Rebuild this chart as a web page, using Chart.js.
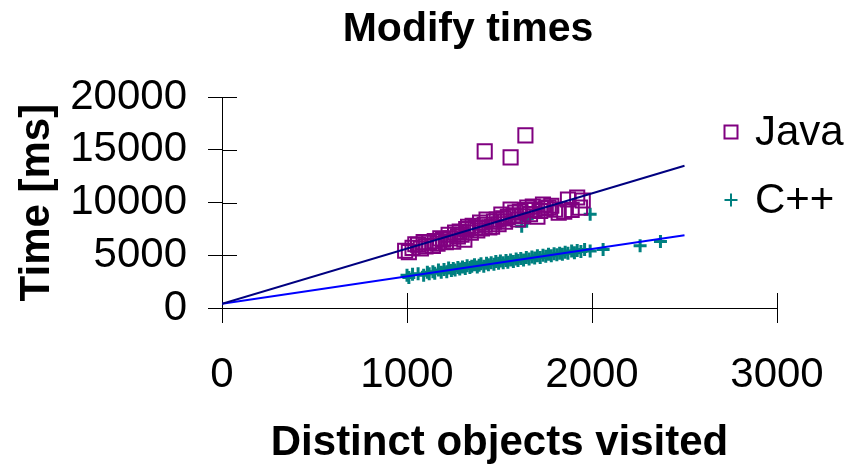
<!DOCTYPE html>
<html>
<head>
<meta charset="utf-8">
<script src="https://cdn.jsdelivr.net/npm/chart.js@4/dist/chart.umd.min.js"></script>
<style>
  body { margin: 0; background: #fff; }
  #wrap { width: 861px; height: 471px; }
</style>
</head>
<body>
<div id="wrap"><canvas id="grafico"></canvas></div>
<script>
// valores
const javaX = [990, 1010, 1030, 1045, 1060, 1075, 1090, 1100, 1120, 1140, 1150, 1165, 1180, 1195, 1210, 1225, 1235, 1250, 1260, 1275, 1285, 1295, 1310, 1320, 1330, 1345, 1355, 1370, 1380, 1395, 1405, 1420, 1430, 1445, 1460, 1470, 1485, 1495, 1510, 1520, 1530, 1545, 1560, 1575, 1585, 1600, 1610, 1625, 1640, 1650, 1665, 1680, 1690, 1705, 1720, 1735, 1750, 1765, 1780, 1800, 1820, 1850, 1870, 1890, 1920, 1935, 1950, 1420, 1560, 1640];
const javaY = [5430, 5300, 5710, 6050, 6000, 5650, 6250, 5850, 6190, 5900, 6350, 6100, 6600, 6480, 6250, 6950, 6600, 6290, 7150, 6800, 7240, 6950, 6480, 7500, 7710, 7150, 7800, 7620, 7350, 8100, 7550, 7900, 8380, 7650, 7710, 8200, 8380, 7950, 8860, 8500, 8190, 8650, 9330, 8800, 9050, 8400, 9140, 8700, 9300, 9520, 8900, 9620, 9350, 8670, 9200, 9810, 9450, 9520, 9700, 9330, 9050, 9140, 10290, 9300, 10480, 9520, 10200, 14860, 14290, 16380];

const cppX = [1000, 1010, 1030, 1060, 1090, 1110, 1120, 1140, 1150, 1170, 1185, 1200, 1215, 1225, 1240, 1250, 1260, 1275, 1285, 1300, 1315, 1325, 1340, 1350, 1365, 1380, 1390, 1400, 1415, 1430, 1440, 1455, 1470, 1480, 1495, 1505, 1520, 1535, 1545, 1560, 1575, 1590, 1600, 1615, 1630, 1645, 1660, 1675, 1690, 1705, 1720, 1735, 1750, 1765, 1780, 1795, 1810, 1825, 1840, 1855, 1870, 1890, 1905, 1920, 1940, 1960, 1990, 2060, 2260, 2370, 1620, 1650, 1990];
const cppY = [3100, 2900, 3200, 3250, 3100, 3400, 3250, 3450, 3300, 3600, 3400, 3650, 3450, 3800, 3550, 3750, 3600, 3850, 3700, 3900, 3750, 4000, 3850, 3950, 4100, 3900, 4050, 4200, 3950, 4250, 4100, 4300, 4150, 4400, 4250, 4450, 4300, 4500, 4350, 4550, 4400, 4650, 4500, 4700, 4550, 4800, 4650, 4850, 4750, 4950, 4800, 5000, 4900, 5100, 4950, 5150, 5050, 5200, 5100, 5300, 5200, 5400, 5250, 5450, 5350, 5550, 5400, 5550, 5900, 6300, 7750, 8500, 8900];

// linhas de tendencia (pontos extremos)
const tendX = [0, 2500];
const tendJavaY = [400, 13500];
const tendCppY = [400, 6900];

const xTicks = [0, 1000, 2000, 3000];
const yTicks = [0, 5000, 10000, 15000, 20000];

const fonte = 'Liberation Sans, Arial, sans-serif';

function pares(xs, ys) {
    return xs.map((x, i) => ({ x: x, y: ys[i] }));
}

// marcas de escala para dentro da area do grafico
const marcasInternas = {
    id: 'marcasInternas',
    beforeDatasetsDraw(chart) {
        const ctx = chart.ctx;
        const area = chart.chartArea;
        const sx = chart.scales.x;
        const sy = chart.scales.y;
        ctx.save();
        ctx.strokeStyle = '#000';
        ctx.lineWidth = 1;
        ctx.beginPath();
        sx.ticks.forEach(t => {
            const px = Math.round(sx.getPixelForValue(t.value)) + 0.5;
            ctx.moveTo(px, area.bottom);
            ctx.lineTo(px, area.bottom - 15);
        });
        sy.ticks.forEach(t => {
            const py = Math.round(sy.getPixelForValue(t.value)) + 0.5;
            ctx.moveTo(area.left, py);
            ctx.lineTo(area.left + 15, py);
        });
        ctx.stroke();
        ctx.restore();
    }
};

// legenda desenhada ao lado direito, sobrepondo a coluna do eixo
const legendaLateral = {
    id: 'legendaLateral',
    afterDraw(chart) {
        const ctx = chart.ctx;
        const area = chart.chartArea;
        const itens = chart.data.datasets.filter(d => d.naLegenda);
        ctx.save();
        ctx.font = '42px ' + fonte;
        ctx.textBaseline = 'alphabetic';
        ctx.fillStyle = '#000';
        itens.forEach((d, i) => {
            const cy = 132 + i * 68;
            const cx = area.right - 46;
            ctx.strokeStyle = d.borderColor;
            ctx.lineWidth = 2;
            ctx.beginPath();
            if (d.pointStyle === 'rect') {
                ctx.rect(cx - 6.5, cy - 6.5, 13, 13);
            } else {
                ctx.moveTo(cx - 6.5, cy);
                ctx.lineTo(cx + 6.5, cy);
                ctx.moveTo(cx, cy - 6.5);
                ctx.lineTo(cx, cy + 6.5);
            }
            ctx.stroke();
            ctx.fillText(d.label, area.right - 22, cy + 13);
        });
        ctx.restore();
    }
};

const ctx = document.getElementById('grafico').getContext('2d');
new Chart(ctx, {
    type: 'scatter',
    data: {
        datasets: [
            {
                label: 'Java tendencia',
                data: pares(tendX, tendJavaY),
                showLine: true,
                borderColor: '#000080',
                borderWidth: 2,
                pointRadius: 0,
                order: 0
            },
            {
                label: 'C++ tendencia',
                data: pares(tendX, tendCppY),
                showLine: true,
                borderColor: '#0000ff',
                borderWidth: 2,
                pointRadius: 0,
                order: 0
            },
            {
                label: 'Java',
                naLegenda: true,
                data: pares(javaX, javaY),
                pointStyle: 'rect',
                pointRadius: 10,
                borderColor: '#800080',
                backgroundColor: 'rgba(0,0,0,0)',
                pointBorderWidth: 2,
                order: 1
            },
            {
                label: 'C++',
                naLegenda: true,
                data: pares(cppX, cppY),
                pointStyle: 'cross',
                pointRadius: 6.5,
                borderColor: '#008080',
                backgroundColor: '#008080',
                pointBorderWidth: 3,
                order: 1
            }
        ]
    },
    options: {
        responsive: true,
        maintainAspectRatio: false,
        animation: false,
        layout: {
            padding: { left: 0, right: -75, top: 0, bottom: 0 }
        },
        plugins: {
            legend: { display: false },
            tooltip: { enabled: false },
            title: {
                display: true,
                text: 'Modify times',
                color: '#000',
                font: { family: fonte, size: 41, weight: 'bold' },
                padding: { top: 5, bottom: 43 }
            }
        },
        scales: {
            x: {
                type: 'linear',
                min: 0,
                max: 3000,
                afterBuildTicks: (s) => { s.ticks = xTicks.map(v => ({ value: v })); },
                afterFit: (s) => { s.paddingRight = 84; s.height = 163; },
                ticks: {
                    color: '#000',
                    padding: 27,
                    autoSkip: false,
                    maxRotation: 0,
                    callback: (v) => String(v),
                    font: { family: fonte, size: 42 }
                },
                grid: { drawOnChartArea: false, tickLength: 15, color: '#000', lineWidth: 1 },
                border: { color: '#000', width: 1 },
                title: {
                    display: true,
                    text: 'Distinct objects visited',
                    color: '#000',
                    font: { family: fonte, size: 42, weight: 'bold' },
                    padding: { top: 14, bottom: 2 }
                }
            },
            y: {
                type: 'linear',
                min: 0,
                max: 20000,
                afterBuildTicks: (s) => { s.ticks = yTicks.map(v => ({ value: v })); },
                afterFit: (s) => { s.width = 222; },
                ticks: {
                    color: '#000',
                    padding: 21,
                    autoSkip: false,
                    callback: (v) => String(v),
                    font: { family: fonte, size: 42 }
                },
                grid: { drawOnChartArea: false, tickLength: 14, color: '#000', lineWidth: 1 },
                border: { color: '#000', width: 1 },
                title: {
                    display: true,
                    text: 'Time [ms]',
                    color: '#000',
                    font: { family: fonte, size: 42, weight: 'bold' },
                    padding: { top: 12, bottom: 8 }
                }
            }
        }
    },
    plugins: [marcasInternas, legendaLateral]
});
</script>
</body>
</html>
